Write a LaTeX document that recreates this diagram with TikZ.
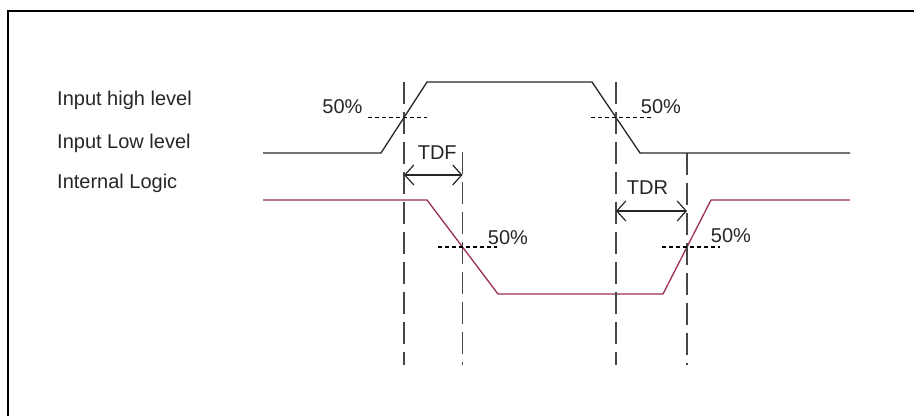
\documentclass[tikz,border=0pt]{standalone}
\usepackage{fontspec}
\setmainfont{Liberation Sans}
\usetikzlibrary{positioning, arrows.meta}
\definecolor{logicred}{RGB}{155,45,90}
\definecolor{guidegray}{RGB}{70,70,70}
\tikzstyle{sigtext} = [font=\fontsize{20}{24}\selectfont, text=black!85, inner sep=0pt]
\tikzstyle{wave} = [line width=1.3pt, black!85, line join=round]
\tikzstyle{logicwave} = [line width=1.3pt, logicred, line join=round]
\tikzstyle{guide} = [line width=1.6pt, guidegray, dash pattern=on 22pt off 8pt]
\tikzstyle{half} = [line width=1.2pt, black, dash pattern=on 4pt off 3pt]
\tikzstyle{delayarrow} = [line width=1.2pt, black!85, <->, >={Straight Barb[length=9pt,width=20pt]}]

\begin{document}
\begin{tikzpicture}[x=1pt,y=1pt]
        \useasboundingbox (0,0) rectangle (914,416);
        \draw [line width=2pt] (8,0) -- (8,405) -- (914,405);

        \node (inhigh) [sigtext, anchor=base west] at (57,310) {Input high level};
        \node (inlow) [sigtext, anchor=base west] at (57,268) {Input Low level};
        \node (intlogic) [sigtext, anchor=base west] at (57,228) {Internal Logic};

        \draw [wave] (263,263) -- (381,263) -- (427,334) -- (592,334) -- (640,263) -- (850,263);
        \draw [logicwave] (263,216) -- (427,216) -- (498,122) -- (663,122) -- (711,216) -- (850,216);

        \draw [guide] (404,334) -- (404,51);
        \draw [guide] (462.5,264) -- (462.5,51);
        \draw [guide] (616,334) -- (616,51);
        \draw [guide] (687,263) -- (687,51);

        \draw [half] (368,298.5) -- (427,298.5);
        \draw [half] (591,298.5) -- (652,298.5);
        \draw [half] (438,169) -- (497,169);
        \draw [half] (662,169) -- (720,169);

        \node (pinrise) [sigtext] at (342.5,309) {50\%};
        \node (pinfall) [sigtext] at (661,309) {50\%};
        \node (plgfall) [sigtext] at (508,178) {50\%};
        \node (plgrise) [sigtext] at (731,180) {50\%};

        \coordinate (tdfa) at (404,241);
        \coordinate (tdfb) at (462.5,241);
        \coordinate (tdra) at (616,205);
        \coordinate (tdrb) at (687,205);
        \draw [delayarrow] (tdfa) -- node[sigtext, above=15pt, xshift=4pt]{TDF} (tdfb);
        \draw [delayarrow] (tdra) -- node[sigtext, above=16pt, xshift=-4pt]{TDR} (tdrb);
\end{tikzpicture}
\end{document}
